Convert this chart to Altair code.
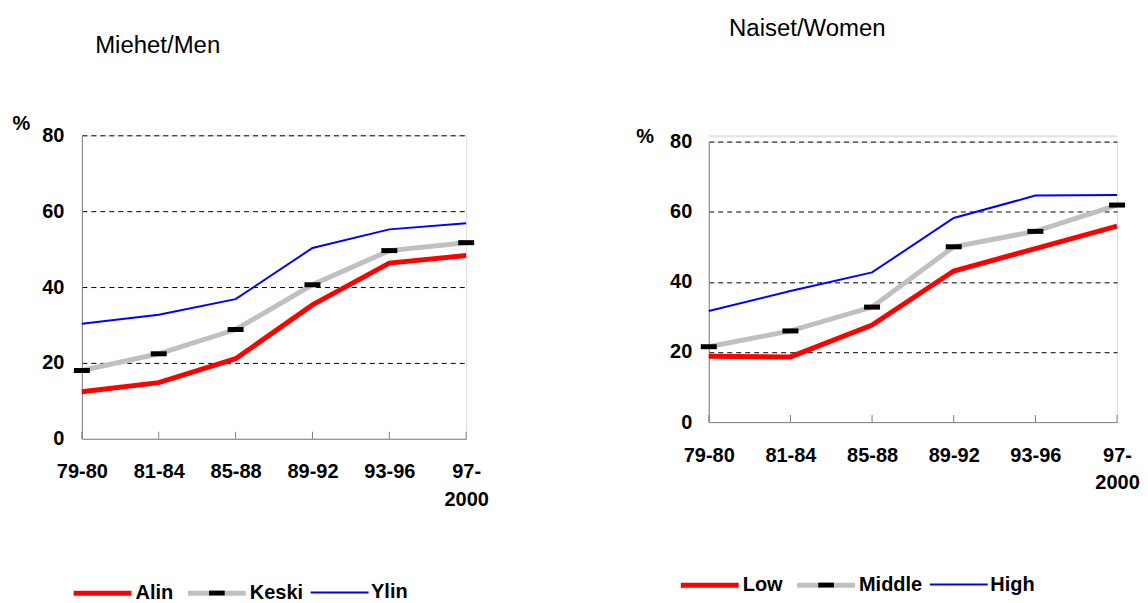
import altair as alt
import pandas as pd

# ---------------- data ----------------
periods = ["79-80", "81-84", "85-88", "89-92", "93-96", "97-2000"]
men_names = ["Alin", "Keski", "Ylin"]
women_names = ["Low", "Middle", "High"]
men_low = [12.4, 14.8, 21.1, 35.3, 46.3, 48.3]
men_mid = [18.0, 22.4, 28.8, 40.6, 49.6, 51.7]
men_high = [30.3, 32.7, 36.8, 50.3, 55.2, 56.8]
women_low = [18.8, 18.6, 27.7, 43.1, 49.5, 55.9]
women_mid = [21.5, 26.0, 32.8, 50.0, 54.4, 61.9]
women_high = [31.7, 37.4, 42.7, 58.2, 64.6, 64.8]
y_ticks = [0, 20, 40, 60, 80]
men_title = "Miehet/Men"
women_title = "Naiset/Women"

# ---------------- style ----------------
FONT = "Liberation Sans"
line_colors = ["#ff0000", "#c0c0c0", "#0000ff"]
line_widths = [5, 5, 2]
marker_fill = ["transparent", "black", "transparent"]
LEG_SIZE = (58 / 3) ** 2
LINE_PATH = "M-3,0H3"
RECT_PATH = "M-3,0M3,0M-0.81,-0.25H0.81V0.25H-0.81Z"


def panel(names, series, title, w, h, t_dx, t_off,
          pct_x, pct_y, ylab_pad, leg_x, leg_y):
    rows = []
    for n, vals in zip(names, series):
        for p, v in zip(periods, vals):
            rows.append({"period": p, "series": n, "value": v})
    df = pd.DataFrame(rows)
    mid = df[df["series"] == names[1]].copy()
    mid["key"] = "k:" + mid["series"]
    key_domain = ["k:" + n for n in names]
    df_ticks = pd.DataFrame({"period": periods, "value": [y_ticks[0]] * len(periods)})

    xenc = alt.X("period:N", sort=periods,
                 scale=alt.Scale(type="point", padding=0),
                 axis=alt.Axis(title=None, labelAngle=0, labelFont=FONT,
                               labelFontSize=20, labelFontWeight="bold",
                               labelColor="black", labelPadding=23,
                               labelLineHeight=28,
                               labelExpr="length(datum.label) > 5 ? [slice(datum.label, 0, 3), slice(datum.label, 3)] : datum.label",
                               ticks=False, domainColor="#808080",
                               domainWidth=1, grid=False, labelOverlap=False))
    yenc = alt.Y("value:Q",
                 scale=alt.Scale(domain=[y_ticks[0], y_ticks[-1]], nice=False, zero=False),
                 axis=alt.Axis(values=y_ticks, title="%", titleAngle=0,
                               titleX=pct_x, titleY=pct_y, titleAlign="center",
                               titleBaseline="middle", titleFont=FONT,
                               titleFontSize=20, titleFontWeight="bold",
                               titleColor="black", labelFont=FONT,
                               labelFontSize=20, labelFontWeight="bold",
                               labelColor="black", labelPadding=ylab_pad,
                               ticks=False, domain=True, domainColor="#808080",
                               domainWidth=1, grid=True,
                               gridColor="black", gridDash=[5, 4], gridWidth=1,
                               gridOpacity={"condition": {"test": "datum.value === 0", "value": 0}, "value": 1}))

    leg_common = dict(title=None, orient="none", legendX=leg_x, legendY=leg_y,
                      direction="horizontal", symbolSize=LEG_SIZE,
                      labelFont=FONT, labelFontSize=20, labelFontWeight="bold",
                      labelColor="black", labelOffset=20.5, columnPadding=3.5,
                      padding=0, labelLimit=0)

    lines = alt.Chart(df).mark_line().encode(
        x=xenc, y=yenc,
        color=alt.Color("series:N", scale=alt.Scale(domain=names, range=line_colors),
                        legend=alt.Legend(symbolType=LINE_PATH, **leg_common)),
        strokeWidth=alt.StrokeWidth("series:N",
                                    scale=alt.Scale(type="ordinal", domain=names, range=line_widths),
                                    legend=alt.Legend(symbolType=LINE_PATH, **leg_common)),
    )
    markers = alt.Chart(mid).mark_tick(size=16, thickness=5, opacity=1).encode(
        x=xenc, y=yenc,
        fill=alt.Fill("key:N", scale=alt.Scale(domain=key_domain, range=marker_fill),
                      legend=alt.Legend(symbolType=RECT_PATH, labelOpacity=0,
                                        labelExpr="slice(datum.label, 2)",
                                        symbolStrokeWidth=5,
                                        symbolStrokeColor="transparent",
                                        symbolOpacity=1,
                                        **leg_common)),
    )
    xticks = alt.Chart(df_ticks).mark_tick(orient="vertical", size=7, thickness=1,
                                           yOffset=-3.5, color="#808080",
                                           opacity=1).encode(
        x=xenc, y=yenc)

    return alt.layer(xticks, lines, markers).properties(
        width=w, height=h,
        title=alt.TitleParams(title, anchor="start", frame="group", orient="top",
                              baseline="alphabetic", offset=t_off, dx=t_dx,
                              font=FONT, fontSize=24, fontWeight="normal",
                              color="black"))


left = panel(men_names, [men_low, men_mid, men_high], men_title,
             385, 304, 13.3, 36, -61, -12, 18, 8.2, 446)
right = panel(women_names, [women_low, women_mid, women_high], women_title,
              409, 281, 20.3, 66, -64.3, -5.3, 17, -11.5, 438)

spacer = alt.Chart(pd.DataFrame({"s": [0]})).mark_point(opacity=0).encode(
    x=alt.value(0), y=alt.value(0)).properties(width=409, height=1)
right_col = alt.vconcat(spacer, right, spacing=5.3, bounds="flush")

chart = alt.hconcat(left, right_col, spacing=243, bounds="flush").resolve_scale(
    color="independent", strokeWidth="independent", fill="independent"
).properties(
    padding={"left": 3, "top": 8, "right": 0, "bottom": 0}
).configure_view(stroke=None).configure(background="white")

chart.save("out.html", embed_options={"renderer": "svg", "actions": False})
